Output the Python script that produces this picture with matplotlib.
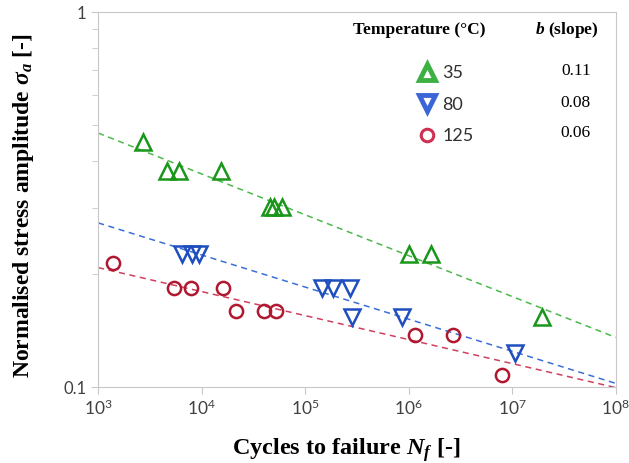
import numpy as np
import matplotlib
matplotlib.use("Agg")
import matplotlib.pyplot as plt
from matplotlib.lines import Line2D
from matplotlib.ticker import LogLocator, FixedLocator, NullFormatter, FixedFormatter

plt.rcParams['font.family'] = 'Lato'
plt.rcParams['mathtext.fontset'] = 'custom'
plt.rcParams['mathtext.rm'] = 'Liberation Serif:bold'
plt.rcParams['mathtext.it'] = 'Liberation Serif:italic:bold'
plt.rcParams['mathtext.bf'] = 'Liberation Serif:bold'

# data
n_35 = [2.7e3, 4.6e3, 6.1e3, 1.54e4, 4.6e4, 5.0e4, 6.0e4, 1.0e6, 1.64e6, 1.93e7]
s_35 = [0.45, 0.377, 0.377, 0.377, 0.302, 0.302, 0.302, 0.227, 0.227, 0.154]

n_80 = [6.5e3, 8.1e3, 9.4e3, 1.45e5, 1.85e5, 2.7e5, 2.83e5, 8.6e5, 1.06e7]
s_80 = [0.227, 0.227, 0.227, 0.184, 0.184, 0.184, 0.154, 0.154, 0.123]

n_125 = [1.4e3, 5.4e3, 7.9e3, 1.6e4, 2.15e4, 4.0e4, 5.2e4, 1.15e6, 2.67e6, 8.0e6]
s_125 = [0.214, 0.184, 0.184, 0.184, 0.160, 0.160, 0.160, 0.138, 0.138, 0.108]

temps = ['35', '80', '125']
slope_labels = ['0.11', '0.08', '0.06']
# power law fits  sigma = A * N^-b
fit_A = [1.01, 0.495, 0.324]
fit_b = [0.109, 0.0856, 0.064]

fig = plt.figure(figsize=(6.29, 4.63), dpi=100)
ax = fig.add_axes([0.156, 0.164, 0.823, 0.81])

n_line = np.logspace(3, 8, 50)
line_cols = ['#4cb84c', '#3a6fd8', '#d0405e']
for A, b, c in zip(fit_A, fit_b, line_cols):
    ax.plot(n_line, A * n_line ** (-b), ls=(0, (4, 3)), color=c, lw=1.1)

ax.plot(n_35, s_35, '^', ms=11, mfc='none', mec='#1a961a', mew=1.8, ls='none')
ax.plot(n_80, s_80, 'v', ms=11, mfc='none', mec='#1f4fbf', mew=1.8, ls='none')
ax.plot(n_125, s_125, 'o', ms=9.5, mfc='none', mec='#b01830', mew=1.8, ls='none')

ax.set_xscale('log')
ax.set_yscale('log')
ax.set_xlim(1e3, 1e8)
ax.set_ylim(0.1, 1)

ax.xaxis.set_major_locator(LogLocator(base=10, numticks=10))
ax.xaxis.set_minor_locator(FixedLocator([]))
ax.yaxis.set_major_locator(FixedLocator([0.1, 1]))
ax.yaxis.set_major_formatter(FixedFormatter(['0.1', '1']))
ax.yaxis.set_minor_locator(FixedLocator([0.2, 0.3, 0.4, 0.5, 0.6, 0.7, 0.8, 0.9]))
ax.yaxis.set_minor_formatter(NullFormatter())

for s in ax.spines.values():
    s.set_color('#c8c8c8')
ax.tick_params(which='both', direction='out', color='#c8c8c8', labelcolor='#404040')
ax.tick_params(which='major', length=5, labelsize=12.5)
ax.tick_params(which='minor', length=4)
ax.tick_params(axis='y', labelsize=12)

ax.set_xlabel('Cycles to failure $N_f$ [-]', fontfamily='Liberation Serif',
              fontweight='bold', fontsize=17.5)
ax.xaxis.set_label_coords(0.48, -0.132)
ax.set_ylabel('Normalised stress amplitude $\\sigma_a$ [-]', fontfamily='Liberation Serif',
              fontweight='bold', fontsize=17)
ax.yaxis.set_label_coords(-0.12, 0.483)

# legend
handles = [
    Line2D([], [], marker='^', ls='none', ms=12, mfc='white', mec='#3cb043', mew=3.5),
    Line2D([], [], marker='v', ls='none', ms=12, mfc='white', mec='#3a66d8', mew=3.5),
    Line2D([], [], marker='o', ls='none', ms=9, mfc='none', mec='#d03050', mew=2.2),
]
leg = ax.legend(handles, temps, loc='upper left', bbox_to_anchor=(0.595, 0.877),
                frameon=False, fontsize=13, handletextpad=0.1, labelspacing=0.85,
                handlelength=1.5, borderaxespad=0)
for t in leg.get_texts():
    t.set_color('#303030')

ax.text(0.62, 0.952, 'Temperature (°C)', transform=ax.transAxes, ha='center', va='center',
        fontfamily='Liberation Serif', fontweight='bold', fontsize=12.5)
ax.text(0.905, 0.952, '$b$ (slope)', transform=ax.transAxes, ha='center', va='center',
        fontfamily='Liberation Serif', fontweight='bold', fontsize=12.5)
for i, sl in enumerate(slope_labels):
    ax.text(0.923, [0.843, 0.757, 0.677][i], sl, transform=ax.transAxes, ha='center',
            va='center', fontfamily='Liberation Serif', fontsize=12.5)

fig.savefig('out.png', dpi=100)
